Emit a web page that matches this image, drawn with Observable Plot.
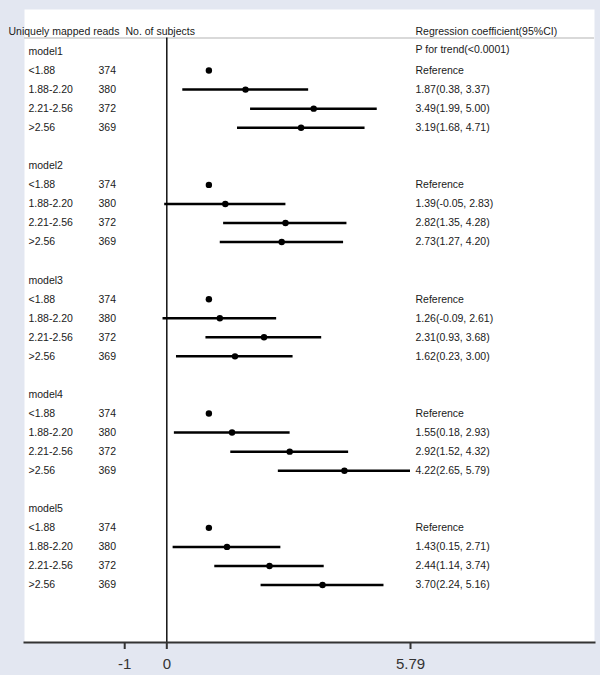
<!DOCTYPE html>
<html>
<head>
<meta charset="utf-8">
<script src="https://cdn.jsdelivr.net/npm/d3@7"></script>
<script src="https://cdn.jsdelivr.net/npm/@observablehq/plot@0.6"></script>
<style>
  html, body { margin: 0; padding: 0; background: #e3e7f1; }
  #chart svg { display: block; }
</style>
</head>
<body>
<div id="chart"></div>
<script>
// ---- data ----
const models = ["model1", "model2", "model3", "model4", "model5"];
const groups = ["<1.88", "1.88-2.20", "2.21-2.56", ">2.56"];
const subjects = [374, 380, 372, 369];
const referenceValue = 1;
const estimates = [[1.87, 3.49, 3.19], [1.39, 2.82, 2.73], [1.26, 2.31, 1.62], [1.55, 2.92, 4.22], [1.43, 2.44, 3.70]];
const lower     = [[0.38, 1.99, 1.68], [-0.05, 1.35, 1.27], [-0.09, 0.93, 0.23], [0.18, 1.52, 2.65], [0.15, 1.14, 2.24]];
const upper     = [[3.37, 5.00, 4.71], [2.83, 4.28, 4.20], [2.61, 3.68, 3.00], [2.93, 4.32, 5.79], [2.71, 3.74, 5.16]];
const xTicks = [-1, 0, 5.79];
const headerLeft = "Uniquely mapped reads";
const headerMid = "No. of subjects";
const headerRight = "Regression coefficient(95%CI)";
const trendText = "P for trend(<0.0001)";

// ---- build table ----
const slotsPerModel = 6;
const modelRows = models.map((m, i) => ({label: m, slot: i * slotsPerModel}));
const rows = [];
models.forEach((m, i) => {
  groups.forEach((g, j) => {
    const r = {model: m, group: g, n: subjects[j], slot: i * slotsPerModel + 1 + j};
    if (j === 0) {
      r.est = referenceValue; r.text = "Reference";
    } else {
      r.est = estimates[i][j - 1]; r.lo = lower[i][j - 1]; r.hi = upper[i][j - 1];
      r.text = `${r.est.toFixed(2)}(${r.lo.toFixed(2)}, ${r.hi.toFixed(2)})`;
    }
    rows.push(r);
  });
});
const ciRows = rows.filter(r => r.lo !== undefined);

const font = 10.5;
const ink = "#1a1a1a";
const chart = Plot.plot({
  width: 600,
  height: 675,
  marginLeft: 24,
  marginRight: 6,
  marginTop: 9,
  marginBottom: 33,
  style: {background: "#e3e7f1", fontFamily: "'Liberation Sans', Arial, sans-serif"},
  x: {domain: [0, 5.79], range: [166.3, 410]},
  y: {domain: [0, 28], range: [51, 584.5], axis: null},
  marks: [
    Plot.frame({fill: "white", stroke: null}),
    // header line
    Plot.ruleY([-0.71], {stroke: "#cccccc", strokeWidth: 1.5}),
    // zero line
    Plot.ruleX([0], {stroke: "#111", strokeWidth: 1.5, insetTop: 28.5}),
    // axis line
    Plot.frame({anchor: "bottom", stroke: "#333", strokeWidth: 2}),
    Plot.axisX({ticks: xTicks, tickFormat: d => String(d), tickSize: 7, tickPadding: 9,
      fontSize: 15, color: "#333", strokeWidth: 2, label: null}),
    // header texts
    Plot.text([headerLeft], {frameAnchor: "top-left", dx: -16, dy: 18, text: d => d, textAnchor: "start", fontSize: font, fill: ink}),
    Plot.text([headerMid], {frameAnchor: "top-left", dx: 101, dy: 18, text: d => d, textAnchor: "start", fontSize: font, fill: ink}),
    Plot.text([headerRight], {frameAnchor: "top-left", dx: 391, dy: 18, text: d => d, textAnchor: "start", fontSize: font, fill: ink}),
    // model labels
    Plot.text(modelRows, {y: "slot", frameAnchor: "left", dx: 4, text: "label", textAnchor: "start", fontSize: font, fill: ink}),
    Plot.text([trendText], {y: () => 0, frameAnchor: "left", dx: 391, dy: -2, text: d => d, textAnchor: "start", fontSize: font, fill: ink}),
    // group labels & counts
    Plot.text(rows, {y: "slot", frameAnchor: "left", dx: 4, text: "group", textAnchor: "start", fontSize: font, fill: ink}),
    Plot.text(rows, {y: "slot", frameAnchor: "left", dx: 74, text: d => String(d.n), textAnchor: "start", fontSize: font, fill: ink}),
    Plot.text(rows, {y: "slot", frameAnchor: "left", dx: 391, text: "text", textAnchor: "start", fontSize: font, fill: ink}),
    // CI lines and points
    Plot.ruleY(ciRows, {y: "slot", x1: "lo", x2: "hi", stroke: "#000", strokeWidth: 2.5}),
    Plot.dot(rows, {y: "slot", x: "est", r: 3.2, fill: "#000", stroke: null})
  ]
});
document.getElementById("chart").appendChild(chart);
</script>
</body>
</html>
